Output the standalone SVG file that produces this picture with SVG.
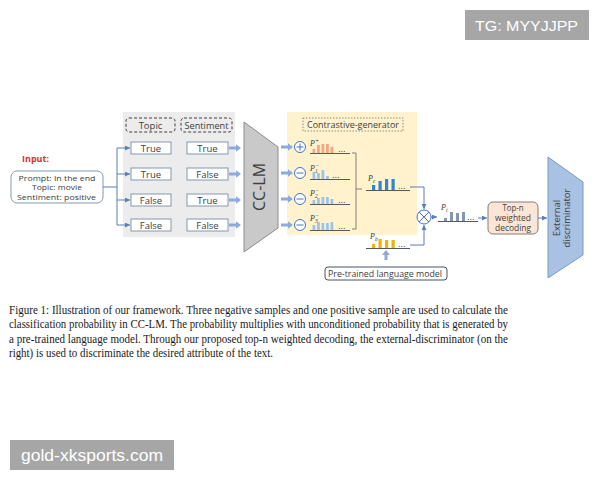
<svg xmlns="http://www.w3.org/2000/svg" width="600" height="480" viewBox="0 0 600 480">
<style>
.sans{font-family:"Open Sans","Noto Sans","DejaVu Sans",sans-serif;fill:#404040}
.val{font-size:9.5px;text-anchor:middle}
.vbox{fill:#fff;stroke:#8497b0;stroke-width:1}
.dash{fill:none;stroke:#404040;stroke-width:1;stroke-dasharray:3 2}
.conn{fill:none;stroke:#5b7fb5;stroke-width:1}
.base{stroke:#595959;stroke-width:1}
.circ{fill:#fff;stroke:#4472c4;stroke-width:1}
.pl{font-family:"Liberation Serif",serif;font-style:italic;font-size:8px;fill:#404040}
.cap{font-family:"Liberation Serif","Times New Roman",serif;font-size:11.5px;fill:#1a1a1a}
.pos{fill:#f4a582}
.neg{fill:#9dc3e6}
.pc{fill:#2e86d1}
.pb{fill:#f0b400}
.pt{fill:#8497b0}
.dots{font-family:"DejaVu Sans",sans-serif;font-size:8px;fill:#404040}
.fat{fill:#8eaadb}
.tn{font-family:"Open Sans","Noto Sans",sans-serif;font-size:8.2px;fill:#404040}
</style>
<defs>
<marker id="ah" viewBox="0 0 6 6" refX="6" refY="3" markerWidth="5" markerHeight="5" orient="auto">
<path d="M0,0 L6,3 L0,6 Z" fill="#5b7fb5"/>
</marker>
<path id="fatarrow" d="M0,-1.6 H7 V-3.8 L12,0 L7,3.8 V1.6 H0 Z"/>
</defs>
<rect width="600" height="480" fill="#fff"/>

<g id="input">
<text x="22" y="162" font-family="Open Sans,Noto Sans,sans-serif" font-size="9" font-weight="bold" fill="#e03030">Input:</text>
<rect x="11" y="171" width="92" height="32" rx="6" fill="#fff" stroke="#8497b0"/>
<text class="sans" font-size="8" x="18.5" y="180.5" textLength="77" lengthAdjust="spacingAndGlyphs">Prompt: In the end</text>
<text class="sans" font-size="8" x="32" y="190.3" textLength="50" lengthAdjust="spacingAndGlyphs">Topic: movie</text>
<text class="sans" font-size="8" x="17" y="200.1" textLength="79" lengthAdjust="spacingAndGlyphs">Sentiment: positive</text>
</g>

<g id="attr-panel">
<rect x="123" y="112" width="112" height="125" fill="#ececec"/>
<rect class="dash" x="126" y="118" width="49" height="14" rx="3"/>
<text class="sans val" x="150.5" y="128.5" font-size="10">Topic</text>
<rect class="dash" x="181" y="118" width="51" height="14" rx="3"/>
<text class="sans val" x="206.5" y="128.5" font-size="9.5" textLength="44" lengthAdjust="spacingAndGlyphs">Sentiment</text>
<rect class="vbox" x="131" y="142" width="40" height="12"/><text class="sans val" x="151" y="151.5">True</text>
<rect class="vbox" x="187" y="142" width="41" height="12"/><text class="sans val" x="207.5" y="151.5">True</text>
<rect class="vbox" x="131" y="168" width="40" height="12"/><text class="sans val" x="151" y="177.5">True</text>
<rect class="vbox" x="187" y="168" width="41" height="12"/><text class="sans val" x="207.5" y="177.5">False</text>
<rect class="vbox" x="131" y="194" width="40" height="12"/><text class="sans val" x="151" y="203.5">False</text>
<rect class="vbox" x="187" y="194" width="41" height="12"/><text class="sans val" x="207.5" y="203.5">True</text>
<rect class="vbox" x="131" y="219" width="40" height="12"/><text class="sans val" x="151" y="228.5">False</text>
<rect class="vbox" x="187" y="219" width="41" height="12"/><text class="sans val" x="207.5" y="228.5">False</text>
</g>

<g id="cclm">
<polygon points="244,122 278,147 278,228 244,252" fill="#c9c9c9" stroke="#8c8c8c"/>
<text class="sans" font-size="16" text-anchor="middle" transform="translate(265,187) rotate(-90)">CC-LM</text>
</g>

<g id="generator">
<rect x="287" y="112" width="130" height="123" fill="#fff2cc"/>
<rect x="303" y="118" width="100" height="13" fill="none" stroke="#8c8c8c" stroke-dasharray="1.5 1.5"/>
<text class="sans" x="353" y="128" font-size="9.5" text-anchor="middle" textLength="92" lengthAdjust="spacingAndGlyphs">Contrastive-generator</text>
<circle class="circ" cx="300" cy="147" r="5.5"/><path d="M296.5,147 H303.5 M300,143.5 V150.5" stroke="#4472c4"/>
<circle class="circ" cx="300" cy="173" r="5.5"/><path d="M296.5,173 H303.5" stroke="#4472c4"/>
<circle class="circ" cx="300" cy="199" r="5.5"/><path d="M296.5,199 H303.5" stroke="#4472c4"/>
<circle class="circ" cx="300" cy="225" r="5.5"/><path d="M296.5,225 H303.5" stroke="#4472c4"/>
<text class="pl" x="310" y="146">P<tspan font-size="6" dy="-3">+</tspan></text>
<rect class="pos" x="312.5" y="149" width="2.8" height="4"/><rect class="pos" x="317" y="145" width="2.8" height="8"/><rect class="pos" x="321.5" y="144" width="2.8" height="9"/><rect class="pos" x="326" y="144" width="2.8" height="9"/><rect class="pos" x="330.5" y="147" width="2.8" height="6"/>
<text class="dots" x="338" y="152">...</text>
<line class="base" x1="310" y1="153.5" x2="350" y2="153.5"/>
<text class="pl" x="310" y="171">P<tspan font-size="5.5" dy="2">1</tspan><tspan font-size="6" dx="-3" dy="-6">−</tspan></text>
<rect class="neg" x="312.5" y="172" width="2.8" height="7"/><rect class="neg" x="317" y="173" width="2.8" height="6"/><rect class="neg" x="321.5" y="170" width="2.8" height="9"/><rect class="neg" x="326" y="176" width="2.8" height="3"/>
<text class="dots" x="332" y="178">...</text>
<line class="base" x1="310" y1="179.5" x2="350" y2="179.5"/>
<text class="pl" x="310" y="196">P<tspan font-size="5.5" dy="2">2</tspan><tspan font-size="6" dx="-3" dy="-6">−</tspan></text>
<rect class="neg" x="312.5" y="200" width="2.8" height="4"/><rect class="neg" x="317" y="198" width="2.8" height="6"/><rect class="neg" x="321.5" y="197" width="2.8" height="7"/><rect class="neg" x="326" y="197" width="2.8" height="7"/><rect class="neg" x="330.5" y="199" width="2.8" height="5"/>
<text class="dots" x="338" y="203">...</text>
<line class="base" x1="310" y1="204.5" x2="350" y2="204.5"/>
<text class="pl" x="310" y="221">P<tspan font-size="5.5" dy="2">3</tspan><tspan font-size="6" dx="-3" dy="-6">−</tspan></text>
<rect class="neg" x="312.5" y="225" width="2.8" height="5"/><rect class="neg" x="317" y="222" width="2.8" height="8"/><rect class="neg" x="321.5" y="223" width="2.8" height="7"/><rect class="neg" x="326" y="223" width="2.8" height="7"/><rect class="neg" x="330.5" y="222" width="2.8" height="8"/>
<text class="dots" x="338" y="229">...</text>
<line class="base" x1="310" y1="230.5" x2="350" y2="230.5"/>
</g>

<g id="pc">
<text class="pl" x="368" y="181">P<tspan font-size="5.5" dy="2">c</tspan></text>
<rect class="pc" x="372" y="185" width="3.2" height="5"/><rect class="pc" x="378.5" y="181" width="3.2" height="9"/><rect class="pc" x="385" y="179" width="3.2" height="11"/><rect class="pc" x="391.5" y="179" width="3.2" height="11"/>
<text class="dots" x="398" y="189">...</text>
<line class="base" x1="366" y1="190.5" x2="410" y2="190.5"/>
</g>

<g id="pb">
<text class="pl" x="370" y="239">P<tspan font-size="5.5" dy="2">b</tspan></text>
<rect class="pb" x="372" y="244" width="3.2" height="4"/><rect class="pb" x="378.5" y="239" width="3.2" height="9"/><rect class="pb" x="385" y="240" width="3.2" height="8"/><rect class="pb" x="391.5" y="240" width="3.2" height="8"/>
<text class="dots" x="398" y="247">...</text>
<line class="base" x1="366" y1="248.5" x2="410" y2="248.5"/>
</g>

<g id="plm">
<rect x="325" y="267" width="122" height="13" rx="3" fill="#fff" stroke="#44546a"/>
<text class="sans" x="328" y="277" font-size="9.5" textLength="114" lengthAdjust="spacingAndGlyphs">Pre-trained language model</text>
</g>

<g id="multiply">
<circle class="circ" cx="424" cy="217" r="7"/>
<path d="M419,212 L429,222 M429,212 L419,222" stroke="#4472c4"/>
</g>

<g id="pt">
<text class="pl" x="441" y="210">P<tspan font-size="5.5" dy="2">t</tspan></text>
<rect class="pt" x="444" y="218" width="3" height="3"/><rect class="pt" x="450" y="212" width="3" height="9"/><rect class="pt" x="456" y="213" width="3" height="8"/><rect class="pt" x="462" y="212" width="3" height="9"/>
<text class="dots" x="467" y="220">...</text>
<line class="base" x1="438" y1="221.5" x2="478" y2="221.5"/>
</g>

<g id="topn">
<rect x="488" y="202" width="50" height="32" rx="5" fill="#fbe5d6" stroke="#8c7b70"/>
<text class="tn" x="502.5" y="211" textLength="21" lengthAdjust="spacingAndGlyphs">Top-n</text>
<text class="tn" x="495" y="221.2" textLength="36" lengthAdjust="spacingAndGlyphs">weighted</text>
<text class="tn" x="495" y="231.4" textLength="36" lengthAdjust="spacingAndGlyphs">decoding</text>
</g>

<g id="ext-disc">
<polygon points="548,157 583,182 583,255 548,278" fill="#a9c1e3" stroke="#7c9ac6"/>
<text class="sans" font-size="9.5" text-anchor="middle" transform="translate(556,218) rotate(-90)"><tspan x="0" y="3.5">External</tspan><tspan x="0" y="13.5">discriminator</tspan></text>
</g>

<g id="connectors">
<path class="conn" d="M103,187 H117 M117,148 V225"/>
<path class="conn" d="M117,148 H130" marker-end="url(#ah)"/>
<path class="conn" d="M117,174 H130" marker-end="url(#ah)"/>
<path class="conn" d="M117,200 H130" marker-end="url(#ah)"/>
<path class="conn" d="M117,225 H130" marker-end="url(#ah)"/>
<use href="#fatarrow" class="fat" x="229" y="148"/>
<use href="#fatarrow" class="fat" x="229" y="174"/>
<use href="#fatarrow" class="fat" x="229" y="200"/>
<use href="#fatarrow" class="fat" x="229" y="225"/>
<use href="#fatarrow" class="fat" x="281" y="147"/>
<use href="#fatarrow" class="fat" x="281" y="173"/>
<use href="#fatarrow" class="fat" x="281" y="199"/>
<use href="#fatarrow" class="fat" x="281" y="225"/>
<path d="M352,153 H356 V229 H352" fill="none" stroke="#7f7f7f"/>
<path d="M362,189 H356" fill="none" stroke="#7f7f7f"/>
<path class="conn" d="M410,187 H424 V209" marker-end="url(#ah)"/>
<path class="conn" d="M410,245 H424 V225" marker-end="url(#ah)"/>
<path d="M386,260 V255" stroke="#8eaadb" stroke-width="3"/>
<path d="M382,255 L386,250 L390,255 Z" fill="#8eaadb"/>
<path class="conn" d="M431,217 H437" marker-end="url(#ah)"/>
<path class="conn" d="M478,218 H487" marker-end="url(#ah)"/>
<path class="conn" d="M538,218 H547" marker-end="url(#ah)"/>
</g>

<g id="caption">
<text class="cap" x="9" y="313.5" textLength="499" lengthAdjust="spacingAndGlyphs">Figure 1: Illustration of our framework. Three negative samples and one positive sample are used to calculate the</text>
<text class="cap" x="9" y="328" textLength="499" lengthAdjust="spacingAndGlyphs">classification probability in CC-LM. The probability multiplies with unconditioned probability that is generated by</text>
<text class="cap" x="9" y="342.5" textLength="499" lengthAdjust="spacingAndGlyphs">a pre-trained language model. Through our proposed top-n weighted decoding, the external-discriminator (on the</text>
<text class="cap" x="9" y="357" textLength="264" lengthAdjust="spacingAndGlyphs">right) is used to discriminate the desired attribute of the text.</text>
</g>

<g id="watermarks">
<rect x="465" y="10" width="124" height="30" fill="#a6a6a6"/>
<text x="475" y="30.5" font-family="Liberation Sans,Arial,sans-serif" font-size="15" fill="#fff" textLength="103" lengthAdjust="spacingAndGlyphs">TG: MYYJJPP</text>
<rect x="10" y="440" width="164" height="30" fill="#a6a6a6"/>
<text x="21" y="461" font-family="Liberation Sans,Arial,sans-serif" font-size="16" fill="#fff" textLength="142" lengthAdjust="spacingAndGlyphs">gold-xksports.com</text>
</g>
</svg>
